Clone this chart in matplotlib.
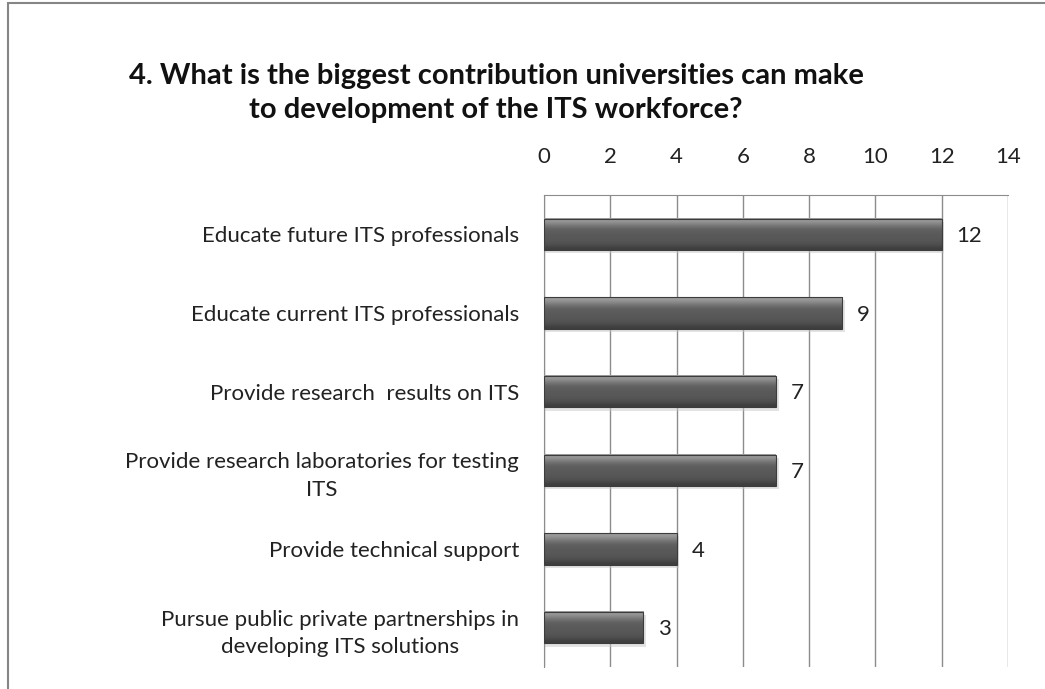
import matplotlib.pyplot as plt
import numpy as np
from matplotlib.patches import Rectangle

categories = ['Educate future ITS professionals',
              'Educate current ITS professionals',
              'Provide research  results on ITS',
              'Provide research laboratories for testing\nITS',
              'Provide technical support',
              'Pursue public private partnerships in\ndeveloping ITS solutions']
values = [12, 9, 7, 7, 4, 3]
ticks = [0, 2, 4, 6, 8, 10, 12, 14]

plt.rcParams['font.family'] = ['Lato', 'DejaVu Sans']

fig = plt.figure(figsize=(10.45, 6.89), dpi=100)
fig.patches.append(Rectangle((8 / 1045, -0.01), 1.1, 1 - 3 / 689 + 0.01,
                             transform=fig.transFigure, fill=False,
                             edgecolor='#868686', linewidth=1.5))
ax = fig.add_axes([544 / 1045, 22 / 689, 464 / 1045, 472 / 689])

# vertical gradient for the bevelled bars
grad = np.array([0.62, 0.55, 0.45, 0.38, 0.36, 0.35, 0.34, 0.33, 0.30, 0.24])[:, None]
h = 0.4
for i, v in enumerate(values):
    y = i
    ax.add_patch(Rectangle((0, y - h / 2 + 0.04), v + 0.08, h, color='#c8c8c8',
                           alpha=0.5, linewidth=0, zorder=2))
    ax.imshow(grad, cmap='gray', vmin=0, vmax=1, aspect='auto',
              extent=(0, v, y + h / 2, y - h / 2), zorder=3, interpolation='bicubic')
    ax.add_patch(Rectangle((0, y - h / 2), v, h, fill=False,
                           edgecolor='#3c3c3c', linewidth=0.8, zorder=4))
    ax.text(v + 0.45, y + 0.02, str(v), va='center', ha='left', fontsize=16, color='#222222')

ax.set_xlim(0, 14)
ax.set_ylim(len(values) - 0.5, -0.5)
ax.set_xticks(ticks)
ax.xaxis.tick_top()
ax.tick_params(axis='x', length=0, pad=20, labelsize=16, colors='#222222')
ax.set_yticks(range(len(categories)))
ax.set_yticklabels(categories, fontsize=16, color='#222222', linespacing=1.45,
                   multialignment='center')
ax.tick_params(axis='y', length=0, pad=18)
ax.grid(axis='x', color='#8c8c8c', linewidth=1)
ax.set_axisbelow(True)
for s in ['right', 'bottom']:
    ax.spines[s].set_visible(False)
ax.spines['top'].set_color('#8c8c8c')
ax.spines['left'].set_color('#8c8c8c')

fig.text(496 / 1045, 1 - 93 / 689,
         '4. What is the biggest contribution universities can make\nto development of the ITS workforce?',
         ha='center', va='center', fontsize=21, fontweight='bold', linespacing=1.4,
         color='#111111')

fig.savefig('out.png', dpi=100)
